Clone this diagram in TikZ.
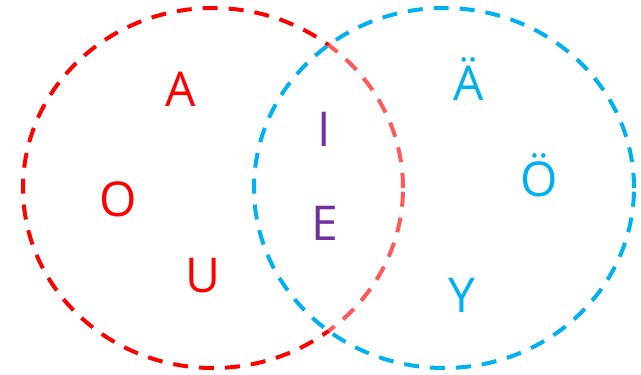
\documentclass[tikz,border=0pt]{standalone}
\usepackage{fontspec}
\setmainfont{Open Sans}
\usepackage{xcolor}
\usetikzlibrary{shapes.geometric}
\definecolor{setred}{HTML}{FF0000}
\definecolor{setblue}{HTML}{00B0F0}
\definecolor{setpurple}{HTML}{7030A0}

\begin{document}
\begin{tikzpicture}[x=1pt, y=-1pt,
  setline/.style={ellipse, line width=4pt, dash pattern=on 15pt off 11pt, minimum width=380pt, minimum height=360pt, inner sep=0pt},
  vowel/.style={anchor=base, inner sep=0pt, font=\fontsize{48}{58}\selectfont}]

\useasboundingbox (0,0) rectangle (641,375);

% Sets
\node[setline, draw=setred] (redset) at (213,188) {};
\node[setline, draw=setblue, fill=white, fill opacity=0.35, draw opacity=1] (blueset) at (444,188) {};

% Left set
\node[vowel, text=setred] (a) at (181,106.5) {A};
\node[vowel, text=setred] (o) at (118,216) {O};
\node[vowel, text=setred] (u) at (203,292) {U};

% Both sets
\node[vowel, text=setpurple] (i) at (324.5,146.5) {I};
\node[vowel, text=setpurple] (e) at (325,240) {E};

% Right set
\node[vowel, text=setblue] (ae) at (469,100.5) {Ä};
\node[vowel, text=setblue] (oe) at (539,196.5) {Ö};
\node[vowel, text=setblue] (y) at (462,312) {Y};

\end{tikzpicture}
\end{document}
